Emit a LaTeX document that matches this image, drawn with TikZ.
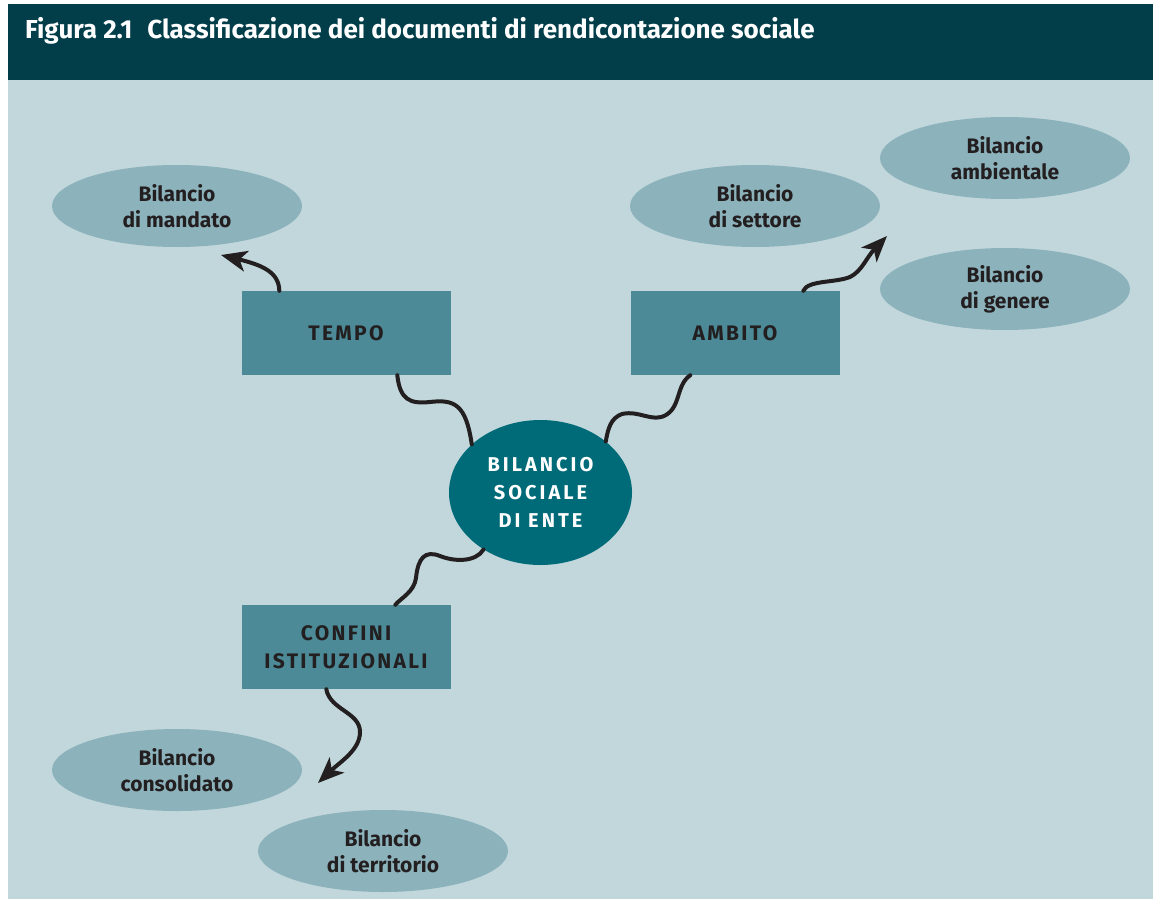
\documentclass[tikz,border=0pt]{standalone}
\usepackage{fontspec}
\setmainfont{Fira Sans}
\usetikzlibrary{shapes.geometric,arrows.meta,calc}

\definecolor{headcol}{HTML}{023E4A}
\definecolor{panelcol}{HTML}{C2D7DC}
\definecolor{bubblecol}{HTML}{8CB3BC}
\definecolor{boxcol}{HTML}{4B8A96}
\definecolor{corecol}{HTML}{006B78}
\definecolor{inkcol}{HTML}{231F20}

\tikzset{%
  every bubble/.style={
    ellipse,
    fill=bubblecol,
    minimum width=250pt,
    minimum height=82pt,
    inner sep=0pt,
    align=center,
    text=inkcol,
    font=\fontsize{21}{26}\selectfont\bfseries
  },
  category/.style={
    rectangle,
    fill=boxcol,
    minimum width=209pt,
    minimum height=84pt,
    inner sep=0pt,
    align=center,
    text=inkcol,
    font=\fontsize{21}{28}\selectfont\bfseries\addfontfeatures{LetterSpace=11}
  },
  core/.style={
    ellipse,
    fill=corecol,
    minimum width=183pt,
    minimum height=145pt,
    inner sep=0pt,
    align=center,
    text=white,
    font=\fontsize{20}{28}\selectfont\bfseries\addfontfeatures{LetterSpace=15}
  },
  wavy/.style={
    draw=inkcol,
    line width=4pt,
    line cap=round
  },
  tip/.style={
    -{Stealth[length=26pt,width=21pt,inset=7pt]}
  },
}

\begin{document}
\begin{tikzpicture}[x=1pt, y=-1pt]
\useasboundingbox (0,0) rectangle (1153,899);
\fill [white] (0,0) rectangle (1153,899);
\fill [panelcol] (8,4) rectangle (1153,899);
\fill [headcol] (8,4) rectangle (1153,80);

\node [anchor=base west, text=white, font=\fontsize{26}{28}\selectfont\bfseries, inner sep=0pt] (title) at (25,38)
  {Figura 2.1\hspace{15pt}Classificazione dei documenti di rendicontazione sociale};

\foreach \m/\x/\y/\l in {mandato/177/206/{Bilancio\\di mandato}, settore/755/206/{Bilancio\\di settore},
    ambientale/1005/158/{Bilancio\\ambientale}, genere/1005/289/{Bilancio\\di genere},
    consolidato/177/770/{Bilancio\\consolidato}, territorio/383/851/{Bilancio\\di territorio}}
  \node [every bubble] (\m) at (\x,\y) {\l};

\foreach \m/\x/\y/\l in {tempo/346/333/TEMPO, ambito/735/333/AMBITO, confini/346/647/{CONFINI\\ISTITUZIONALI}}
  \node [category] (\m) at (\x,\y) {\l};

\node [core] (ente) at (540.5,492.5) {BILANCIO\\SOCIALE\\DI ENTE};

\coordinate (mandato-tip) at (221,255);
\coordinate (ambito-tip) at (887,236);
\coordinate (confini-tip) at (318,783);

% tempo
\draw [wavy, tip] ($(tempo.north west)+(38,0)$) .. controls (279,272) and (262,265) .. (mandato-tip);
\draw [wavy] ($(tempo.south west)+(156,0)$) .. controls (400,400) and (410,404) .. (430,402)
  .. controls (455,399) and (466,405) .. (ente.145);

% ambito
\draw [wavy] ($(ambito.south west)+(60,0)$) .. controls (676,385) and (681,406) .. (666,415)
  .. controls (652,423) and (640,410) .. (622,414) .. controls (611,418) and (608,428) .. (ente.38);
\draw [wavy, tip] ($(ambito.north west)+(173,0)$) .. controls (808,280) and (835,283) .. (850,277)
  .. controls (862,271) and (866,258) .. (ambito-tip);

% confini
\draw [wavy] (ente.225) .. controls (476,562) and (455,562) .. (440,556)
  .. controls (425,550) and (418,558) .. (416,578) .. controls (414,592) and (401,598) .. ($(confini.north west)+(154,0)$);
\draw [wavy, tip] ($(confini.south west)+(85,0)$) .. controls (330,710) and (360,712) .. (360,732)
  .. controls (360,750) and (340,762) .. (confini-tip);

\end{tikzpicture}
\end{document}
